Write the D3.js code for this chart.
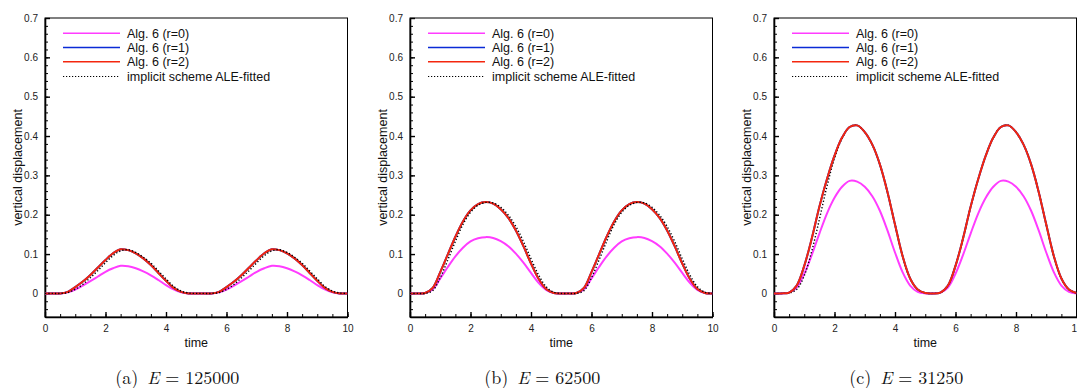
<!DOCTYPE html>
<html>
<head>
<meta charset="utf-8">
<script src="https://cdn.jsdelivr.net/npm/d3@7/dist/d3.min.js"></script>
<style>
  body { margin: 0; background: #fff; }
  svg { display: block; }
  .tick text { font-family: "Liberation Sans", Arial, sans-serif; font-size: 10px; fill: #222; }
</style>
</head>
<body>
<div id="chart"></div>
<script>
// time samples shared by every series
var times = [0, 0.25, 0.5, 0.75, 1, 1.25, 1.5, 1.75, 2, 2.25, 2.5, 2.75, 3, 3.25, 3.5, 3.75, 4, 4.25, 4.5, 4.75, 5,
             5.25, 5.5, 5.75, 6, 6.25, 6.5, 6.75, 7, 7.25, 7.5, 7.75, 8, 8.25, 8.5, 8.75, 9, 9.25, 9.5, 9.75, 10];

var xTicks = [0, 2, 4, 6, 8, 10];
var yTicks = [0, 0.1, 0.2, 0.3, 0.4, 0.5, 0.6, 0.7];
var legendLabels = ['Alg. 6 (r=0)', 'Alg. 6 (r=1)', 'Alg. 6 (r=2)', 'implicit scheme ALE-fitted'];
var captionTags = ['(a)', '(b)', '(c)'];
var eValues = ['125000', '62500', '31250'];

// (a) E = 125000
var aR0 = [0, 0, 0, 0.003, 0.01, 0.02, 0.031, 0.043, 0.055, 0.064, 0.07, 0.069, 0.064, 0.056, 0.046, 0.034, 0.021, 0.01, 0.003, 0, 0,
           0, 0, 0.003, 0.01, 0.02, 0.031, 0.043, 0.055, 0.064, 0.07, 0.069, 0.064, 0.056, 0.046, 0.034, 0.021, 0.01, 0.003, 0, 0];
var aR1 = [0, 0, 0, 0.004, 0.016, 0.03, 0.047, 0.066, 0.085, 0.102, 0.112, 0.11, 0.102, 0.089, 0.072, 0.052, 0.032, 0.014, 0.004, 0, 0,
           0, 0, 0.004, 0.016, 0.03, 0.047, 0.066, 0.085, 0.102, 0.112, 0.11, 0.102, 0.089, 0.072, 0.052, 0.032, 0.014, 0.004, 0, 0];
var aR2 = [0, 0, 0, 0.004, 0.016, 0.03, 0.047, 0.066, 0.085, 0.102, 0.112, 0.11, 0.102, 0.089, 0.072, 0.052, 0.032, 0.014, 0.004, 0, 0,
           0, 0, 0.004, 0.016, 0.03, 0.047, 0.066, 0.085, 0.102, 0.112, 0.11, 0.102, 0.089, 0.072, 0.052, 0.032, 0.014, 0.004, 0, 0];
var aImp = [0, 0, 0, 0.002, 0.01, 0.023, 0.04, 0.058, 0.078, 0.096, 0.108, 0.111, 0.104, 0.092, 0.077, 0.057, 0.037, 0.018, 0.006, 0.001, 0,
            0, 0, 0.002, 0.01, 0.023, 0.04, 0.058, 0.078, 0.096, 0.108, 0.111, 0.104, 0.092, 0.077, 0.057, 0.037, 0.018, 0.006, 0.001, 0];

// (b) E = 62500
var bR0 = [0, 0, 0.001, 0.01, 0.038, 0.067, 0.094, 0.116, 0.132, 0.14, 0.143, 0.141, 0.133, 0.12, 0.101, 0.078, 0.052, 0.027, 0.009, 0.001, 0,
           0, 0.001, 0.01, 0.038, 0.067, 0.094, 0.116, 0.132, 0.14, 0.143, 0.141, 0.133, 0.12, 0.101, 0.078, 0.052, 0.027, 0.009, 0.001, 0];
var bR1 = [0, 0, 0.001, 0.014, 0.054, 0.099, 0.144, 0.183, 0.211, 0.227, 0.232, 0.228, 0.214, 0.192, 0.16, 0.12, 0.076, 0.037, 0.011, 0.001, 0,
           0, 0.001, 0.014, 0.054, 0.099, 0.144, 0.183, 0.211, 0.227, 0.232, 0.228, 0.214, 0.192, 0.16, 0.12, 0.076, 0.037, 0.011, 0.001, 0];
var bR2 = [0, 0, 0.001, 0.014, 0.054, 0.099, 0.144, 0.183, 0.211, 0.227, 0.232, 0.228, 0.214, 0.192, 0.16, 0.12, 0.076, 0.037, 0.011, 0.001, 0,
           0, 0.001, 0.014, 0.054, 0.099, 0.144, 0.183, 0.211, 0.227, 0.232, 0.228, 0.214, 0.192, 0.16, 0.12, 0.076, 0.037, 0.011, 0.001, 0];
var bImp = [0, 0, 0, 0.007, 0.04, 0.085, 0.132, 0.175, 0.206, 0.224, 0.231, 0.23, 0.219, 0.199, 0.17, 0.132, 0.088, 0.047, 0.017, 0.003, 0,
            0, 0, 0.007, 0.04, 0.085, 0.132, 0.175, 0.206, 0.224, 0.231, 0.23, 0.219, 0.199, 0.17, 0.132, 0.088, 0.047, 0.017, 0.003, 0];

// (c) E = 31250
var cR0 = [0, 0, 0.002, 0.015, 0.05, 0.098, 0.152, 0.203, 0.243, 0.271, 0.286, 0.284, 0.271, 0.247, 0.21, 0.16, 0.104, 0.054, 0.02, 0.004, 0,
           0, 0.002, 0.015, 0.05, 0.098, 0.152, 0.203, 0.243, 0.271, 0.286, 0.284, 0.271, 0.247, 0.21, 0.16, 0.104, 0.054, 0.02, 0.004, 0];
var cR1 = [0, 0, 0.002, 0.02, 0.07, 0.14, 0.22, 0.29, 0.35, 0.396, 0.423, 0.427, 0.41, 0.378, 0.328, 0.258, 0.175, 0.095, 0.038, 0.01, 0.001,
           0, 0.002, 0.02, 0.07, 0.14, 0.22, 0.29, 0.35, 0.396, 0.423, 0.427, 0.41, 0.378, 0.328, 0.258, 0.175, 0.095, 0.038, 0.01, 0.001];
var cR2 = [0, 0, 0.002, 0.02, 0.07, 0.14, 0.22, 0.29, 0.35, 0.396, 0.423, 0.427, 0.41, 0.378, 0.328, 0.258, 0.175, 0.095, 0.038, 0.01, 0.001,
           0, 0.002, 0.02, 0.07, 0.14, 0.22, 0.29, 0.35, 0.396, 0.423, 0.427, 0.41, 0.378, 0.328, 0.258, 0.175, 0.095, 0.038, 0.01, 0.001];
var cImp = [0, 0, 0.001, 0.01, 0.045, 0.108, 0.188, 0.272, 0.343, 0.394, 0.423, 0.427, 0.41, 0.378, 0.328, 0.258, 0.175, 0.095, 0.038, 0.01, 0.001,
            0, 0.002, 0.02, 0.07, 0.14, 0.22, 0.29, 0.35, 0.396, 0.423, 0.427, 0.41, 0.378, 0.328, 0.258, 0.175, 0.095, 0.038, 0.01, 0.001];

var panelSeries = [
    [aR0, aR1, aR2, aImp],
    [bR0, bR1, bR2, bImp],
    [cR0, cR1, cR2, cImp]
];

var colors = ['#ff3cff', '#0a2bd6', '#f4260e', '#000'];

var W = 1077, H = 388;
var panelLeft = [45, 410, 774];
var plotW = 302.5, plotTop = 18, plotBottom = 317;
var font = '"Liberation Sans", Arial, Helvetica, sans-serif';

var svg = d3.select('#chart').append('svg')
    .attr('width', W)
    .attr('height', H);

var yScale = d3.scaleLinear().domain([-0.06, 0.7]).range([plotBottom, plotTop]);

var xMinor = d3.range(0, 10.01, 0.5);
var yMinor = d3.range(-0.06, 0.7001, 0.02);

panelSeries.forEach(function(series, p) {
    var left = panelLeft[p];
    var xScale = d3.scaleLinear().domain([0, 10]).range([0, plotW]);
    var g = svg.append('g').attr('transform', 'translate(' + left + ',0)');

    var clipId = 'clip' + p;
    g.append('clipPath').attr('id', clipId)
        .append('rect').attr('x', 0).attr('y', plotTop).attr('width', plotW).attr('height', plotBottom - plotTop);

    // frame
    g.append('rect')
        .attr('x', 0).attr('y', plotTop)
        .attr('width', plotW).attr('height', plotBottom - plotTop)
        .attr('fill', 'none').attr('stroke', '#000').attr('stroke-width', 1);

    // minor ticks
    g.append('g')
        .call(d3.axisLeft(yScale).tickValues(yMinor).tickSize(-3).tickFormat(''))
        .call(function(s) { s.select('.domain').remove(); s.selectAll('line').attr('stroke-width', 1); });
    g.append('g')
        .attr('transform', 'translate(0,' + plotBottom + ')')
        .call(d3.axisBottom(xScale).tickValues(xMinor).tickSize(-3).tickFormat(''))
        .call(function(s) { s.select('.domain').remove(); s.selectAll('line').attr('stroke-width', 1); });

    // major ticks + labels
    var yAxis = d3.axisLeft(yScale)
        .tickValues(yTicks)
        .tickSizeInner(-5)
        .tickSizeOuter(0)
        .tickPadding(7)
        .tickFormat(function(d) { return d === 0 ? '0' : d3.format('.1f')(d); });
    g.append('g').call(yAxis)
        .call(function(s) { s.select('.domain').attr('stroke-width', 1.6); s.selectAll('line').attr('stroke-width', 1.4); });

    var xAxis = d3.axisBottom(xScale)
        .tickValues(xTicks)
        .tickSizeInner(-5)
        .tickSizeOuter(0)
        .tickPadding(8)
        .tickFormat(d3.format('d'));
    g.append('g')
        .attr('transform', 'translate(0,' + plotBottom + ')')
        .call(xAxis)
        .call(function(s) { s.select('.domain').attr('stroke-width', 1.6); s.selectAll('line').attr('stroke-width', 1.4); });

    // curves
    var line = d3.line()
        .x(function(d, i) { return xScale(times[i]); })
        .y(function(d) { return yScale(d); })
        .curve(d3.curveCatmullRom.alpha(0.5));

    var order = p === 2 ? [0, 1, 3, 2] : [0, 1, 2, 3];
    var curves = g.append('g').attr('clip-path', 'url(#' + clipId + ')');
    order.forEach(function(k) {
        var path = curves.append('path')
            .attr('d', line(series[k]))
            .attr('fill', 'none')
            .attr('stroke', colors[k]);
        if (k === 3) {
            path.attr('stroke-width', 1.4).attr('stroke-dasharray', '1.3,2');
        } else {
            path.attr('stroke-width', 2);
        }
    });

    // legend
    var rowsY = [33.3, 47.5, 61.7, 76.5];
    legendLabels.forEach(function(label, k) {
        var ly = rowsY[k];
        var l = g.append('line')
            .attr('x1', 18).attr('x2', 75)
            .attr('y1', ly).attr('y2', ly)
            .attr('stroke', colors[k]);
        if (k === 3) {
            l.attr('stroke-width', 1.2).attr('stroke-dasharray', '1.2,1.8');
        } else {
            l.attr('stroke-width', 1.6);
        }
        g.append('text')
            .attr('x', 82).attr('y', ly + 4.3)
            .attr('font-family', font)
            .attr('font-size', '12.5px')
            .attr('fill', '#111')
            .text(label);
    });

    // axis titles
    g.append('text')
        .attr('x', plotW / 2).attr('y', 347)
        .attr('text-anchor', 'middle')
        .attr('font-family', font).attr('font-size', '12.5px').attr('fill', '#111')
        .text('time');
    g.append('text')
        .attr('transform', 'translate(-23,' + ((plotTop + plotBottom) / 2) + ') rotate(-90)')
        .attr('text-anchor', 'middle')
        .attr('font-family', font).attr('font-size', '12.5px').attr('fill', '#111')
        .text('vertical displacement');

    // caption
    var cap = g.append('text')
        .attr('x', plotW / 2 - 19).attr('y', 384)
        .attr('text-anchor', 'middle')
        .attr('font-family', '"Latin Modern Roman", "DejaVu Serif", serif')
        .attr('font-size', '18px')
        .attr('fill', '#111');
    cap.append('tspan').text(captionTags[p] + '\u2002');
    cap.append('tspan').attr('font-style', 'italic').text('E');
    cap.append('tspan').text(' = ' + eValues[p]);
});
</script>
</body>
</html>
